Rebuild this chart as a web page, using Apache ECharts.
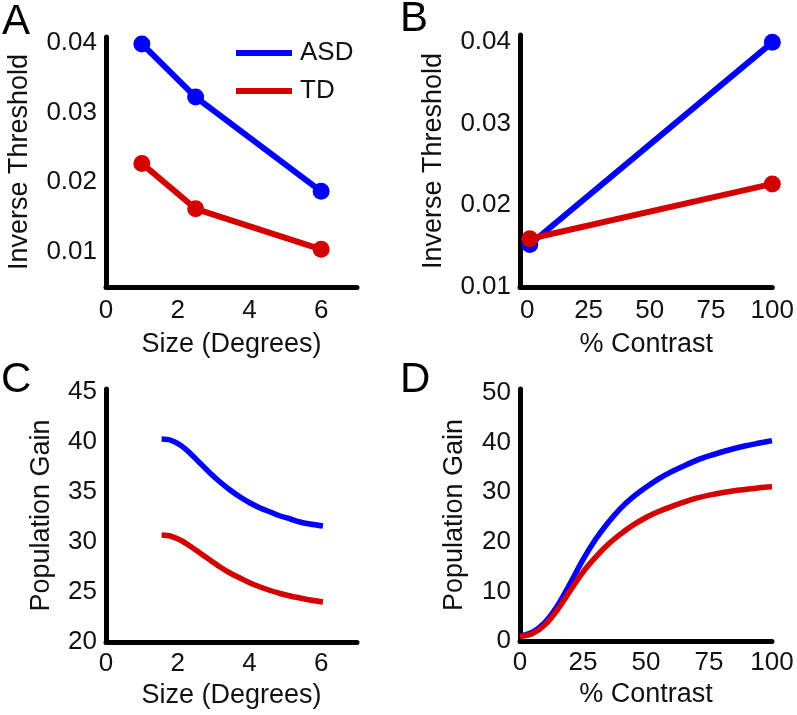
<!DOCTYPE html>
<html>
<head>
<meta charset="utf-8">
<script src="https://cdn.jsdelivr.net/npm/echarts@6/dist/echarts.min.js"></script>
<style>
  html, body { margin: 0; padding: 0; background: #fff; }
  #chart { width: 797px; height: 715px; }
</style>
</head>
<body>
<div id="chart"></div>
<script>
// ---- Data ----
const seriesNames = ['ASD', 'TD'];
// Panel A: inverse threshold vs size (degrees)
const sizeA = [1, 2.5, 6];
const asdA = [0.0398, 0.0322, 0.0187];
const tdA = [0.0227, 0.0162, 0.0104];
// Panel B: inverse threshold vs % contrast
const contrastB = [1, 100];
const asdB = [0.0152, 0.0399];
const tdB = [0.0159, 0.0226];
// Panel C: population gain vs size
const sizeC = [1.55, 1.79, 2.07, 2.34, 2.62, 2.90, 3.18, 3.46, 3.74, 4.02, 4.30, 4.58, 4.86, 5.14, 5.41, 5.69, 6.05];
const asdC = [40.3, 40.2, 39.7, 38.9, 37.9, 36.9, 36.0, 35.2, 34.5, 33.9, 33.4, 33.0, 32.6, 32.3, 32.0, 31.8, 31.6];
const tdC = [30.7, 30.6, 30.2, 29.6, 28.9, 28.2, 27.5, 26.9, 26.4, 25.9, 25.5, 25.15, 24.85, 24.6, 24.4, 24.2, 24.0];
// Panel D: population gain vs % contrast
const contrastD = [0, 5, 10, 15, 20, 25, 30, 35, 40, 45, 50, 55, 60, 65, 70, 75, 80, 85, 90, 95, 100];
const asdD = [1.0, 1.8, 3.8, 7.2, 11.7, 16.4, 20.5, 23.9, 26.8, 29.1, 31.0, 32.7, 34.1, 35.3, 36.4, 37.3, 38.1, 38.8, 39.4, 39.9, 40.4];
const tdD = [0.9, 1.5, 3.3, 6.4, 10.2, 13.9, 16.9, 19.5, 21.6, 23.4, 24.9, 26.1, 27.1, 28.0, 28.8, 29.4, 29.9, 30.3, 30.6, 30.9, 31.1];
// Axis titles / panel letters
const panelLetters = ['A', 'B', 'C', 'D'];
const xTitles = ['Size (Degrees)', '% Contrast', 'Size (Degrees)', '% Contrast'];
const yTitles = ['Inverse Threshold', 'Inverse Threshold', 'Population Gain', 'Population Gain'];

// ---- Style ----
const BLUE = '#0000ff';
const RED = '#d40000';
const FONT = 'Liberation Sans, Arial, Helvetica, sans-serif';
const FS = 26;
const FST = 27;

const pair = (xs, ys) => xs.map((x, i) => [x, ys[i]]);

const grids = [
  { left: 106, top: 37, width: 251, height: 250 },
  { left: 520, top: 35, width: 253, height: 252 },
  { left: 106, top: 389, width: 251, height: 253 },
  { left: 520, top: 389, width: 252, height: 252 }
];

const axisLineStyle = { show: true, onZero: false, lineStyle: { color: '#000', width: 5 } };

function multipleOf(v, step) {
  const r = v / step;
  return Math.abs(r - Math.round(r)) < 1e-6;
}

const xAxes = [
  { min: 0, max: 7, interval: 1, fmt: v => multipleOf(v, 2) && v <= 6 ? String(v) : '', gap: 44, margin: 11 },
  { min: -3, max: 100, interval: 1, fmt: v => multipleOf(v, 25) ? String(v) : '', gap: 44, margin: 11 },
  { min: 0, max: 7, interval: 1, fmt: v => multipleOf(v, 2) && v <= 6 ? String(v) : '', gap: 40, margin: 9 },
  { min: 0, max: 100, interval: 25, fmt: v => String(v), gap: 40, margin: 9 }
].map((a, i) => ({
  type: 'value', gridIndex: i, min: a.min, max: a.max, interval: a.interval,
  name: xTitles[i], nameLocation: 'middle', nameGap: a.gap,
  nameTextStyle: { fontFamily: FONT, fontSize: FST, color: '#111' },
  axisLine: axisLineStyle, axisTick: { show: false }, splitLine: { show: false },
  axisLabel: { formatter: a.fmt, fontFamily: FONT, fontSize: FS, color: '#111', margin: a.margin }
}));

const yAxes = [
  { min: 0.005, max: 0.0408, interval: 0.005, fmt: v => multipleOf(v, 0.01) && v < 0.0405 ? v.toFixed(2) : '', gap: 73 },
  { min: 0.01, max: 0.0408, interval: 0.01, fmt: v => multipleOf(v, 0.01) && v < 0.0405 ? v.toFixed(2) : '', gap: 73 },
  { min: 20, max: 45.3, interval: 5, fmt: v => multipleOf(v, 5) ? String(v) : '', gap: 51 },
  { min: 0, max: 50.8, interval: 10, fmt: v => multipleOf(v, 10) ? String(v) : '', gap: 52 }
].map((a, i) => ({
  type: 'value', gridIndex: i, min: a.min, max: a.max, interval: a.interval,
  name: yTitles[i], nameLocation: 'middle', nameGap: a.gap, nameRotate: 90,
  nameTextStyle: { fontFamily: FONT, fontSize: FST, color: '#111' },
  axisLine: axisLineStyle, axisTick: { show: false }, splitLine: { show: false },
  axisLabel: { formatter: a.fmt, fontFamily: FONT, fontSize: FS, color: '#111', margin: 9 }
}));

function lineSeries(name, color, data, idx, withSymbols) {
  return {
    type: 'line', name, xAxisIndex: idx, yAxisIndex: idx, data,
    showSymbol: withSymbols, symbol: 'circle', symbolSize: withSymbols ? 17 : 0,
    smooth: withSymbols ? false : 0.3,
    lineStyle: { color, width: withSymbols ? 6 : 5.5 }, itemStyle: { color },
    emphasis: { disabled: true }, animation: false
  };
}

const series = [
  lineSeries('ASD', BLUE, pair(sizeA, asdA), 0, true),
  lineSeries('TD', RED, pair(sizeA, tdA), 0, true),
  lineSeries('ASD', BLUE, pair(contrastB, asdB), 1, true),
  lineSeries('TD', RED, pair(contrastB, tdB), 1, true),
  lineSeries('ASD', BLUE, pair(sizeC, asdC), 2, false),
  lineSeries('TD', RED, pair(sizeC, tdC), 2, false),
  lineSeries('ASD', BLUE, pair(contrastD, asdD), 3, false),
  lineSeries('TD', RED, pair(contrastD, tdD), 3, false)
];

const letterPos = [[2, 1], [400, -2], [1, 359], [400, 359]];
const graphics = panelLetters.map((t, i) => ({
  type: 'text', left: letterPos[i][0], top: letterPos[i][1],
  style: { text: t, fontFamily: FONT, fontSize: 42, fill: '#000' }
}));

const chart = echarts.init(document.getElementById('chart'), null, { renderer: 'canvas' });
chart.setOption({
  animation: false,
  backgroundColor: '#fff',
  grid: grids,
  xAxis: xAxes,
  yAxis: yAxes,
  series,
  legend: {
    data: seriesNames.map(n => ({ name: n, icon: 'rect' })),
    orient: 'vertical', left: 236, top: 40, padding: 0,
    itemWidth: 56, itemHeight: 6, itemGap: 12,
    selectedMode: false,
    textStyle: { fontFamily: FONT, fontSize: FS, color: '#111', lineHeight: 26, padding: [0, 0, 0, 3] }
  },
  graphic: graphics
});
</script>
</body>
</html>
